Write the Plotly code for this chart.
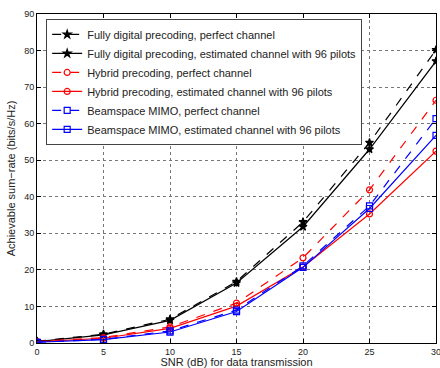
import plotly.graph_objects as go

snr = [0, 5, 10, 15, 20, 25, 30]
fd_perfect = [0.5, 2.4, 6.5, 16.8, 33.1, 54.8, 80.2]
fd_estimated = [0.4, 2.2, 6.2, 16.4, 31.8, 53.0, 77.1]
hy_perfect = [0.4, 1.5, 4.4, 10.9, 23.3, 41.9, 66.4]
hy_estimated = [0.3, 1.3, 4.0, 10.1, 20.8, 35.3, 52.5]
bs_perfect = [0.2, 1.0, 3.3, 9.0, 21.1, 37.5, 61.4]
bs_estimated = [0.2, 0.9, 3.0, 8.6, 20.7, 36.8, 56.8]

names = [
    "Fully digital precoding, perfect channel",
    "Fully digital precoding, estimated channel with 96 pilots",
    "Hybrid precoding, perfect channel",
    "Hybrid precoding, estimated channel with 96 pilots",
    "Beamspace MIMO, perfect channel",
    "Beamspace MIMO, estimated channel with 96 pilots",
]
series = [fd_perfect, fd_estimated, hy_perfect, hy_estimated, bs_perfect, bs_estimated]
colors = ["#000000", "#000000", "#ff0000", "#ff0000", "#0000ff", "#0000ff"]
dashes = ["dash", "solid", "dash", "solid", "dash", "solid"]
symbols = ["star", "star", "circle-open", "circle-open", "square-open", "square-open"]
sizes = [6, 6, 6, 6, 6, 6]

fig = go.Figure()
for n, y, c, d, s, sz in zip(names, series, colors, dashes, symbols, sizes):
    fig.add_trace(go.Scatter(
        x=snr, y=y, name=n, mode="lines+markers",
        line=dict(color=c, dash=d, width=1.2),
        marker=dict(symbol=s, size=sz, color=c, line=dict(color=c, width=1.2)),
    ))

axis_common = dict(
    showline=True, linecolor="#000", linewidth=1, mirror="ticks",
    ticks="inside", ticklen=4, tickcolor="#000",
    showgrid=True, gridcolor="#777", griddash="dot", gridwidth=1,
    zeroline=False, tickfont=dict(size=9, color="#222"),
    ticklabeloverflow="allow",
)
fig.update_xaxes(range=[0, 30], tickvals=[0, 5, 10, 15, 20, 25, 30],
                 title=dict(text="SNR (dB) for data transmission", font=dict(size=11, color="#222"), standoff=2),
                 automargin=False, **axis_common)
fig.update_yaxes(range=[0, 90], tickvals=[0, 10, 20, 30, 40, 50, 60, 70, 80, 90],
                 title=dict(text="Achievable sum\u2212rate (bits/s/Hz)", font=dict(size=11, color="#222"), standoff=6),
                 automargin=False, **axis_common)

fig.update_layout(
    width=440, height=368,
    margin=dict(l=37, r=4, t=14, b=25),
    paper_bgcolor="white", plot_bgcolor="white",
    font=dict(family="Liberation Sans, Arial, sans-serif", color="#222"),
    legend=dict(x=0.023, y=0.985, xanchor="left", yanchor="top",
                bgcolor="white", bordercolor="#444", borderwidth=1,
                font=dict(size=11, color="#222"), tracegroupgap=0,
                itemwidth=30),
    showlegend=True,
    hovermode=False,
)
fig.write_html("out.html",
               config={"displayModeBar": False},
               post_script="document.body.style.margin='0';document.body.style.overflow='hidden';")
